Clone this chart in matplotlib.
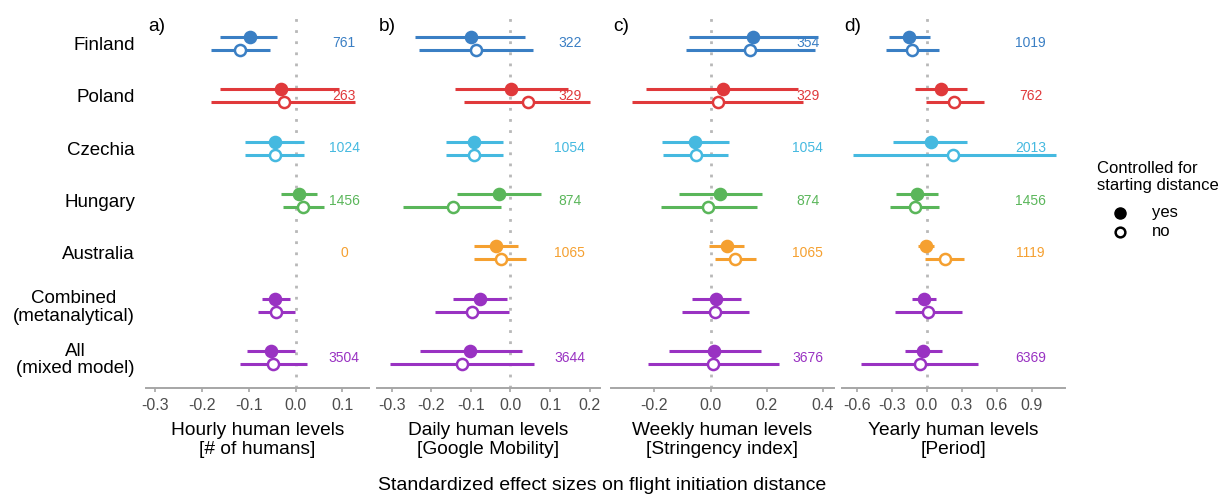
import matplotlib
matplotlib.use("Agg")
import matplotlib.pyplot as plt
from matplotlib.lines import Line2D
import numpy as np

plt.rcParams['font.family'] = ['Liberation Sans', 'DejaVu Sans']

countries = ["Finland", "Poland", "Czechia", "Hungary", "Australia",
             "Combined\n(metanalytical)", "All\n(mixed model)"]
colors = ["#3a7fc4", "#e0393b", "#45b9e0", "#5ab65a", "#f5a030", "#9932c2", "#9932c2"]

# per panel: estimate / lower / upper for "yes" (controlled) and "no"
# Australia has no hourly data -> nan
nan = np.nan
hourly_yes = [-0.097, -0.032, -0.044, 0.007, nan, -0.043, -0.052]
hourly_yes_lo = [-0.162, -0.162, -0.108, -0.032, nan, -0.072, -0.104]
hourly_yes_hi = [-0.039, 0.092, 0.018, 0.046, nan, -0.013, -0.001]
hourly_no = [-0.119, -0.025, -0.044, 0.015, nan, -0.041, -0.048]
hourly_no_lo = [-0.181, -0.180, -0.108, -0.028, nan, -0.080, -0.119]
hourly_no_hi = [-0.054, 0.128, 0.018, 0.060, nan, -0.002, 0.025]
hourly_n = ["761", "263", "1024", "1456", "0", "", "3504"]

daily_yes = [-0.100, 0.002, -0.092, -0.028, -0.037, -0.077, -0.103]
daily_yes_lo = [-0.242, -0.140, -0.163, -0.135, -0.091, -0.145, -0.228]
daily_yes_hi = [0.037, 0.144, -0.018, 0.078, 0.020, -0.010, 0.029]
daily_no = [-0.088, 0.043, -0.091, -0.145, -0.025, -0.098, -0.123]
daily_no_lo = [-0.231, -0.117, -0.164, -0.272, -0.093, -0.191, -0.303]
daily_no_hi = [0.056, 0.202, -0.018, -0.023, 0.040, -0.004, 0.060]
daily_n = ["322", "329", "1054", "874", "1065", "", "3644"]

weekly_yes = [0.151, 0.044, -0.054, 0.032, 0.057, 0.020, 0.014]
weekly_yes_lo = [-0.077, -0.230, -0.171, -0.113, -0.006, -0.067, -0.146]
weekly_yes_hi = [0.381, 0.310, 0.067, 0.182, 0.120, 0.108, 0.180]
weekly_no = [0.139, 0.026, -0.051, -0.010, 0.088, 0.017, 0.010]
weekly_no_lo = [-0.089, -0.280, -0.169, -0.177, 0.015, -0.102, -0.223]
weekly_no_hi = [0.371, 0.329, 0.062, 0.165, 0.161, 0.137, 0.245]
weekly_n = ["354", "329", "1054", "874", "1065", "", "3676"]

yearly_yes = [-0.152, 0.120, 0.034, -0.086, -0.006, -0.026, -0.029]
yearly_yes_lo = [-0.323, -0.100, -0.286, -0.266, -0.074, -0.123, -0.186]
yearly_yes_hi = [0.028, 0.345, 0.345, 0.094, 0.063, 0.077, 0.129]
yearly_no = [-0.129, 0.237, 0.225, -0.103, 0.157, 0.011, -0.060]
yearly_no_lo = [-0.352, -0.003, -0.632, -0.312, -0.011, -0.274, -0.566]
yearly_no_hi = [0.108, 0.491, 1.108, 0.105, 0.320, 0.302, 0.440]
yearly_n = ["1019", "762", "2013", "1456", "1119", "", "6369"]

panels = [
    dict(tag="a)", title="Hourly human levels\n[# of humans]",
         yes=(hourly_yes, hourly_yes_lo, hourly_yes_hi),
         no=(hourly_no, hourly_no_lo, hourly_no_hi), n=hourly_n,
         xlim=(-0.32, 0.157), ticks=[-0.3, -0.2, -0.1, 0.0, 0.1], nx=0.104),
    dict(tag="b)", title="Daily human levels\n[Google Mobility]",
         yes=(daily_yes, daily_yes_lo, daily_yes_hi),
         no=(daily_no, daily_no_lo, daily_no_hi), n=daily_n,
         xlim=(-0.337, 0.226), ticks=[-0.3, -0.2, -0.1, 0.0, 0.1, 0.2], nx=0.15),
    dict(tag="c)", title="Weekly human levels\n[Stringency index]",
         yes=(weekly_yes, weekly_yes_lo, weekly_yes_hi),
         no=(weekly_no, weekly_no_lo, weekly_no_hi), n=weekly_n,
         xlim=(-0.354, 0.439), ticks=[-0.2, 0.0, 0.2, 0.4], nx=0.345),
    dict(tag="d)", title="Yearly human levels\n[Period]",
         yes=(yearly_yes, yearly_yes_lo, yearly_yes_hi),
         no=(yearly_no, yearly_no_lo, yearly_no_hi), n=yearly_n,
         xlim=(-0.726, 1.185), ticks=[-0.6, -0.3, 0.0, 0.3, 0.6, 0.9], nx=0.89),
]

W, H = 1224, 497
fig = plt.figure(figsize=(W / 100, H / 100), dpi=100)
lefts = [146, 377, 611, 842]
pw = 223
top_px, bot_px = 12, 388

ypos = np.arange(len(countries))
off = 0.125

for k, p in enumerate(panels):
    ax = fig.add_axes([lefts[k] / W, 1 - bot_px / H, pw / W, (bot_px - top_px) / H])
    ax.axvline(0, color="#b8b8b8", lw=2, ls=(0, (1, 3)), zorder=1)
    for i in range(len(countries)):
        c = colors[i]
        for (est, lo, hi), dy, face in [(p["yes"], -off, c), (p["no"], off, "white")]:
            if np.isnan(est[i]):
                continue
            ax.plot([lo[i], hi[i]], [ypos[i] + dy] * 2, color=c, lw=2.2,
                    solid_capstyle="butt", zorder=2)
            ax.plot(est[i], ypos[i] + dy, marker="o", ms=8, mfc=face, mec=c,
                    mew=1.8, zorder=3)
        if p["n"][i]:
            ax.text(p["nx"], ypos[i], p["n"][i], color=c, fontsize=10,
                    ha="center", va="center")
    ax.set_xlim(*p["xlim"])
    ax.set_ylim(6.58, -0.6)
    ax.set_xticks(p["ticks"])
    ax.set_xticklabels([f"{t:.1f}" for t in p["ticks"]])
    for s in ["top", "right", "left"]:
        ax.spines[s].set_visible(False)
    ax.spines["bottom"].set_color("#a6a6a6")
    ax.spines["bottom"].set_linewidth(1.4)
    ax.tick_params(axis="x", colors="#a6a6a6", labelcolor="#4d4d4d",
                   labelsize=11.5, length=3, width=1.2, pad=4)
    ax.set_xlabel(p["title"], fontsize=13.8, labelpad=7, linespacing=1.15)
    ax.text(0.01, 0.985, p["tag"], transform=ax.transAxes, fontsize=13.8,
            ha="left", va="top")
    if k == 0:
        ax.set_yticks(ypos)
        ax.set_yticklabels(countries)
        ax.tick_params(axis="y", length=0, labelsize=13.5, pad=8)
        for lab in ax.get_yticklabels():
            lab.set_multialignment("center")
            lab.set_linespacing(1.05)
    else:
        ax.set_yticks([])

fig.text(602 / W, 1 - 485 / H, "Standardized effect sizes on flight initiation distance",
         fontsize=14, ha="center", va="center")

# legend
fig.text(1097 / W, 1 - 177 / H, "Controlled for\nstarting distance", fontsize=12,
         ha="left", va="center", linespacing=1.15)
fig.add_artist(Line2D([1120 / W], [1 - 213 / H], transform=fig.transFigure, marker="o",
                      ms=8, mfc="black", mec="black", ls=""))
fig.add_artist(Line2D([1120 / W], [1 - 232 / H], transform=fig.transFigure, marker="o",
                      ms=7, mfc="white", mec="black", mew=1.8, ls=""))
fig.text(1152 / W, 1 - 213 / H, "yes", fontsize=12, ha="left", va="center")
fig.text(1152 / W, 1 - 232 / H, "no", fontsize=12, ha="left", va="center")

fig.savefig("out.png", dpi=100)
